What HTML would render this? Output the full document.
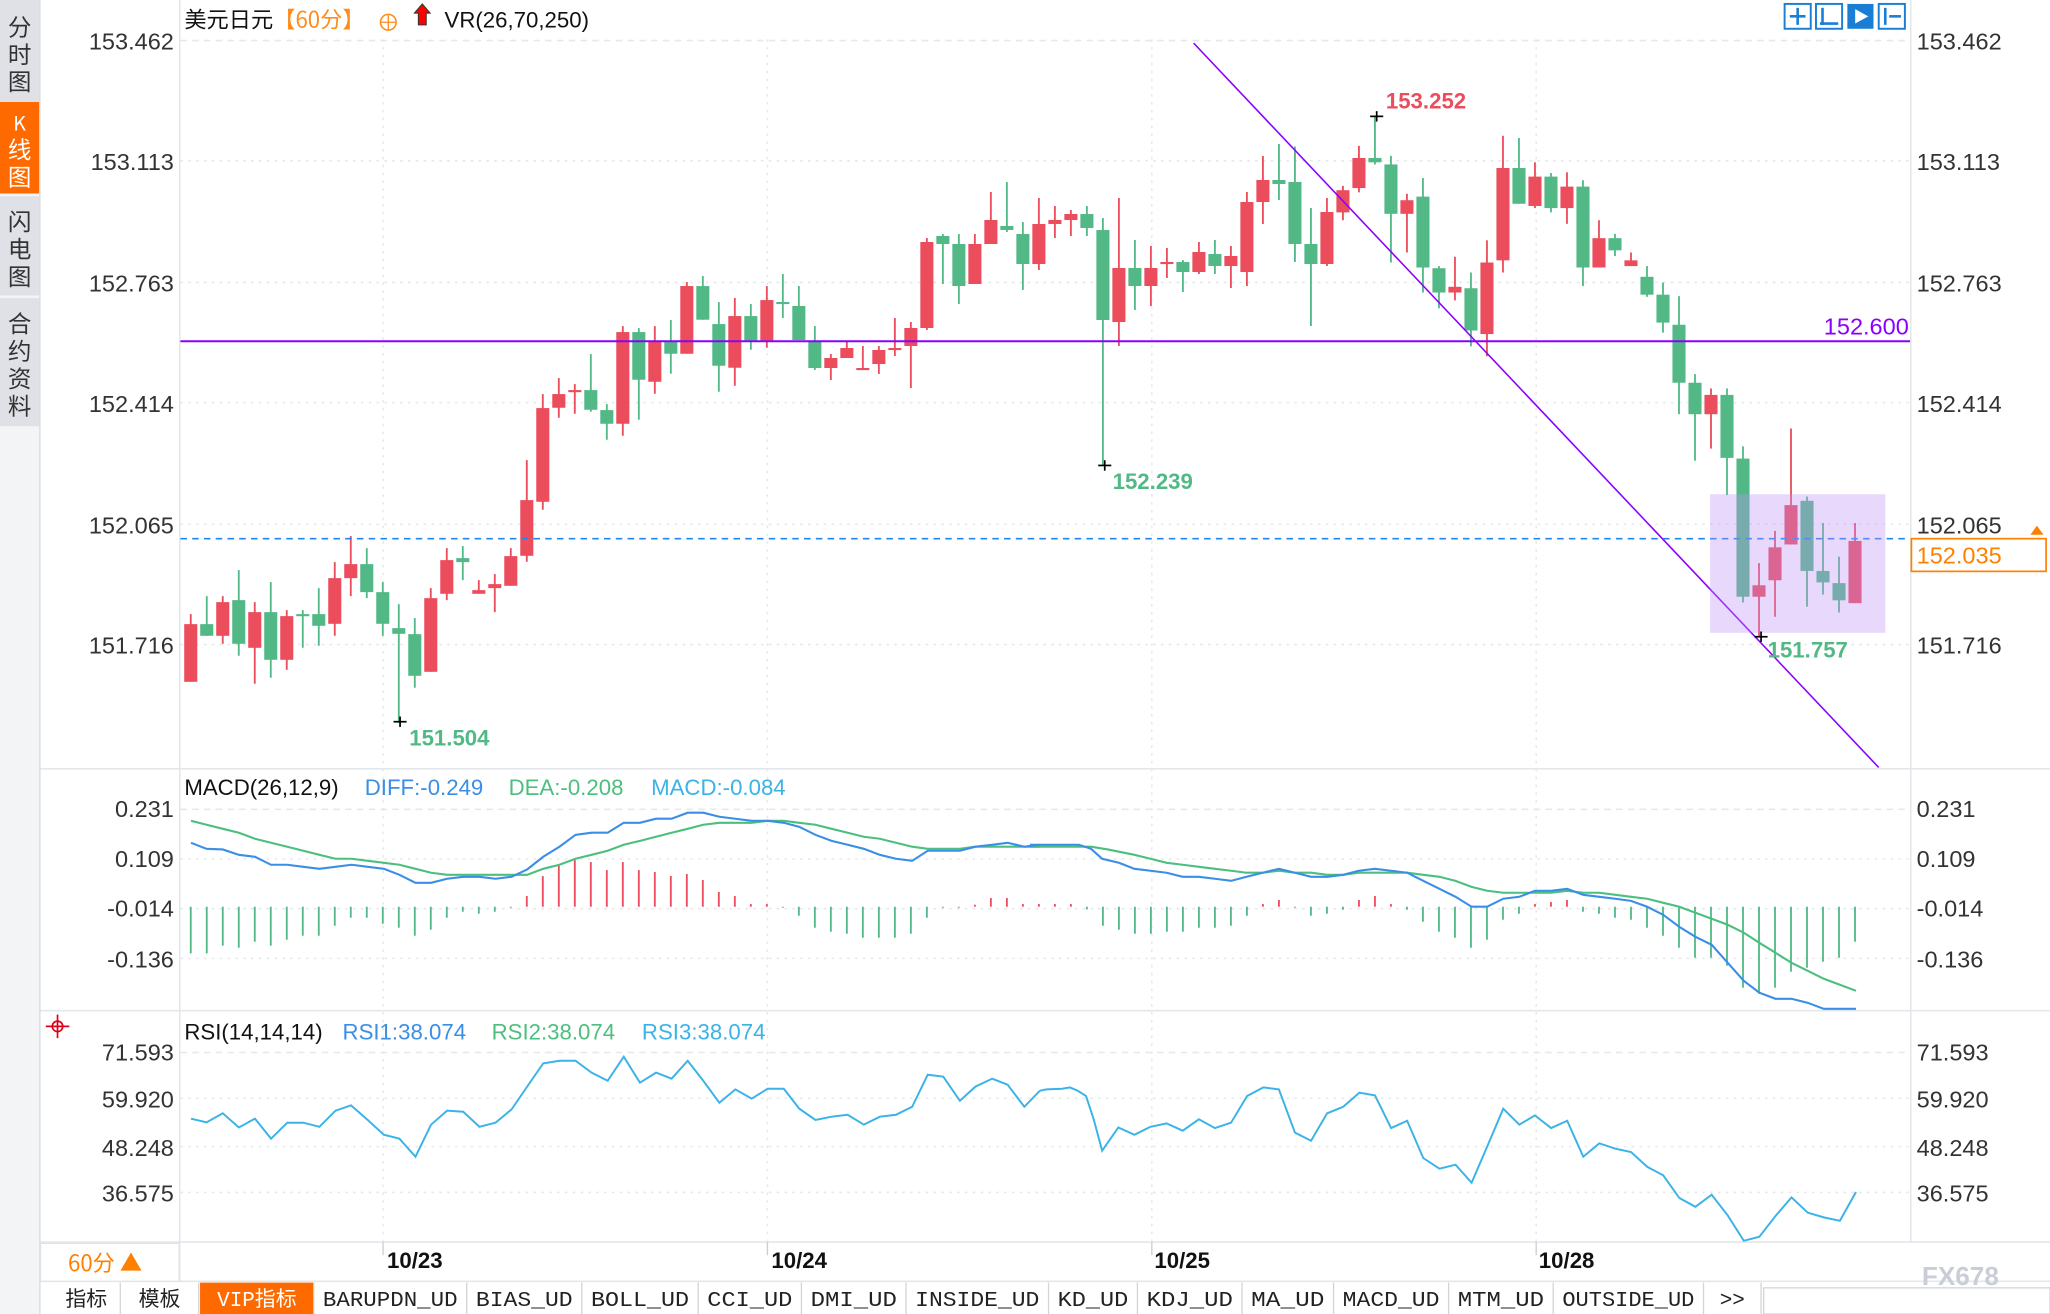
<!DOCTYPE html>
<html><head><meta charset="utf-8">
<style>
html,body{margin:0;padding:0;background:#fff;}
svg{display:block;font-family:"Liberation Sans","Noto Sans CJK SC",sans-serif;}
</style></head>
<body>
<svg id="s" xmlns="http://www.w3.org/2000/svg" width="2050" height="1314" viewBox="0 0 1568 1005" preserveAspectRatio="none">
<rect x="0" y="0" width="1568" height="1005" fill="#fff"/>
<rect x="0" y="0" width="30" height="1005" fill="#f3f4f6"/>
<rect x="0" y="0" width="30" height="78" fill="#dfe1e6"/>
<rect x="0" y="78" width="30" height="70" fill="#ff6a00"/>
<rect x="0" y="150" width="30" height="76" fill="#dfe1e6"/>
<rect x="0" y="228" width="30" height="98" fill="#dfe1e6"/>
<line x1="30.5" y1="0" x2="30.5" y2="1005" stroke="#d5d9de"/>
<g font-size="18" fill="#333" text-anchor="middle" font-family="'Noto Sans CJK SC',sans-serif">
<text x="15" y="27">分</text><text x="15" y="48">时</text><text x="15" y="69">图</text>
<text x="15" y="100" fill="#fff" font-size="15">K</text><text x="15" y="121" fill="#fff">线</text><text x="15" y="142" fill="#fff">图</text>
<text x="15" y="176">闪</text><text x="15" y="197">电</text><text x="15" y="218">图</text>
<text x="15" y="254">合</text><text x="15" y="275">约</text><text x="15" y="296">资</text><text x="15" y="317">料</text>
</g>
<g stroke="#e3e7eb" stroke-width="1.2">
<line x1="137.5" y1="0" x2="137.5" y2="980"/>
<line x1="1461.5" y1="0" x2="1461.5" y2="950"/>
<line x1="31" y1="588" x2="1568" y2="588"/>
<line x1="31" y1="773" x2="1568" y2="773"/>
<line x1="31" y1="950" x2="1568" y2="950"/>
<line x1="31" y1="980" x2="1568" y2="980"/>
</g>
<g id="grid"></g>
<g id="macd"></g>
<g id="rsi"></g>
<g id="candles"></g>
<line x1="138" y1="261" x2="1461" y2="261" stroke="#8a00ff" stroke-width="1.5"/>
<line x1="913" y1="33" x2="1437" y2="587" stroke="#8a00ff" stroke-width="1.2"/>
<line x1="138" y1="412" x2="1461" y2="412" stroke="#1e88f0" stroke-width="1.3" stroke-dasharray="5,4"/>
<rect x="1308" y="378" width="134" height="106" fill="rgb(190,145,245)" fill-opacity="0.35"/>
<text x="1460" y="256" font-size="18" fill="#8a00ff" text-anchor="end">152.600</text>
<g stroke="#000" stroke-width="1.3">
<line x1="1048" y1="89" x2="1058" y2="89"/><line x1="1053" y1="85" x2="1053" y2="93"/>
<line x1="840" y1="356" x2="850" y2="356"/><line x1="845" y1="352" x2="845" y2="360"/>
<line x1="301" y1="552" x2="311" y2="552"/><line x1="306" y1="548" x2="306" y2="556"/>
<line x1="1342" y1="487" x2="1352" y2="487"/><line x1="1347" y1="483" x2="1347" y2="491"/>
</g>
<g font-size="17" font-weight="bold">
<text x="1060" y="83" fill="#eb4d5c">153.252</text>
<text x="851" y="374" fill="#52b986">152.239</text>
<text x="313" y="570" fill="#52b986">151.504</text>
<text x="1352" y="503" fill="#52b986">151.757</text>
</g>
<g font-size="18" fill="#333" text-anchor="end">
<text x="133" y="38">153.462</text><text x="133" y="130">153.113</text><text x="133" y="223">152.763</text>
<text x="133" y="315">152.414</text><text x="133" y="408">152.065</text><text x="133" y="500">151.716</text>
<text x="133" y="625">0.231</text><text x="133" y="663">0.109</text><text x="133" y="701">-0.014</text><text x="133" y="740">-0.136</text>
<text x="133" y="811">71.593</text><text x="133" y="847">59.920</text><text x="133" y="884">48.248</text><text x="133" y="919">36.575</text>
</g>
<g font-size="18" fill="#333">
<text x="1466" y="38">153.462</text><text x="1466" y="130">153.113</text><text x="1466" y="223">152.763</text>
<text x="1466" y="315">152.414</text><text x="1466" y="408">152.065</text><text x="1466" y="500">151.716</text>
<text x="1466" y="625">0.231</text><text x="1466" y="663">0.109</text><text x="1466" y="701">-0.014</text><text x="1466" y="740">-0.136</text>
<text x="1466" y="811">71.593</text><text x="1466" y="847">59.920</text><text x="1466" y="884">48.248</text><text x="1466" y="919">36.575</text>
</g>
<rect x="1462" y="412" width="103" height="25" fill="#fff" stroke="#ff8000" stroke-width="1.3"/>
<text x="1466" y="431" font-size="18" fill="#ff8000">152.035</text>
<path d="M1553,409 L1558,402 L1563,409 Z" fill="#ff8000"/>
<text x="141" y="21" font-size="17" fill="#111" font-family="'Noto Sans CJK SC',sans-serif">美元日元</text>
<text x="209" y="21" font-size="17" fill="#ff8c1a" font-family="'Noto Sans CJK SC',sans-serif">【60分】</text>
<circle cx="297" cy="17" r="6" fill="none" stroke="#ff8c1a" stroke-width="1.2"/>
<line x1="291" y1="17" x2="303" y2="17" stroke="#ff8c1a"/><line x1="297" y1="11" x2="297" y2="23" stroke="#ff8c1a"/>
<path d="M323,3 L329,10 L326,10 L326,19 L320,19 L320,10 L317,10 Z" fill="#f00" stroke="#333" stroke-width="0.8"/>
<text x="340" y="21" font-size="17" fill="#111">VR(26,70,250)</text>
<g fill="none" stroke="#1a7fd4" stroke-width="1.5">
<rect x="1365" y="3" width="20" height="19"/><rect x="1389" y="3" width="20" height="19"/>
<rect x="1437" y="3" width="20" height="19"/>
</g>
<rect x="1413" y="3" width="20" height="19" fill="#1a7fd4"/>
<g stroke="#1a7fd4" stroke-width="2"><line x1="1369" y1="12.5" x2="1381" y2="12.5"/><line x1="1375" y1="6" x2="1375" y2="19"/>
<line x1="1394" y1="6" x2="1394" y2="19"/><line x1="1392" y1="18" x2="1406" y2="18"/><line x1="1442" y1="6" x2="1442" y2="19"/><path d="M1445,12.5 L1454,12.5" /></g>
<path d="M1419,7 L1429,12.5 L1419,18 Z" fill="#fff"/>
<text x="141" y="608" font-size="17" fill="#111">MACD(26,12,9)</text>
<text x="279" y="608" font-size="17" fill="#3a8ee6">DIFF:-0.249</text>
<text x="389" y="608" font-size="17" fill="#4cbf7f">DEA:-0.208</text>
<text x="498" y="608" font-size="17" fill="#3ab3e6">MACD:-0.084</text>
<text x="141" y="795" font-size="17" fill="#111">RSI(14,14,14)</text>
<text x="262" y="795" font-size="17" fill="#3a8ee6">RSI1:38.074</text>
<text x="376" y="795" font-size="17" fill="#4cbf7f">RSI2:38.074</text>
<text x="491" y="795" font-size="17" fill="#3ab3e6">RSI3:38.074</text>
<g stroke="#e0001a" stroke-width="1.3" fill="none"><circle cx="44" cy="785" r="4"/><line x1="35" y1="785" x2="53" y2="785"/><line x1="44" y1="776" x2="44" y2="794"/></g>
<rect x="31" y="951" width="106" height="29" fill="#fff" stroke="#dfe3e7"/>
<text x="52" y="972" font-size="17" fill="#ff8000" font-family="'Noto Sans CJK SC',sans-serif">60分 ▲</text>
<g font-size="17" fill="#111" font-weight="bold">
<text x="296" y="970">10/23</text><text x="590" y="970">10/24</text><text x="883" y="970">10/25</text><text x="1177" y="970">10/28</text>
</g>
<g stroke="#c8ced4"><line x1="293" y1="950" x2="293" y2="960"/><line x1="587" y1="950" x2="587" y2="960"/><line x1="881" y1="950" x2="881" y2="960"/><line x1="1175" y1="950" x2="1175" y2="960"/></g>
<text x="1470" y="983" font-size="20" fill="#c9ced6" font-weight="bold">FX678</text>
<g id="tabs" font-size="16" fill="#222" font-family="'Liberation Mono','Noto Sans CJK SC',monospace"></g>
<script>
var NS="http://www.w3.org/2000/svg";
function el(p,t,a,txt){var e=document.createElementNS(NS,t);for(var k in a)e.setAttribute(k,a[k]);if(txt)e.textContent=txt;p.appendChild(e);return e;}
var g=document.getElementById('grid');
[123,216,308,401,493,657,695,733,840,877,912].forEach(function(y){el(g,'line',{x1:138,y1:y,x2:1461,y2:y,stroke:'#e6e9ec','stroke-width':1.2,'stroke-dasharray':'2,4'});});
[31,619,805].forEach(function(y){el(g,'line',{x1:138,y1:y,x2:1461,y2:y,stroke:'#e6e9ec','stroke-width':1.2,'stroke-dasharray':'5,4'});});
[293,587,881,1175].forEach(function(x){el(g,'line',{x1:x,y1:30,x2:x,y2:950,stroke:'#e6e9ec','stroke-width':1.2,'stroke-dasharray':'2,4'});});
var RED='#eb4d5c',GRN='#52b986';
function X(i){return 145.9+(i-1)*12.24;}
var c=document.getElementById('candles');
var z1=[['r',1092,1265,1062,1265],['g',1092,1127,1008,1127],['r',1026,1127,1008,1151],['g',1020,1151,930,1187],['r',1056,1163,1026,1271],['g',1056,1199,966,1253],['r',1068,1199,1050,1229],['g',1062,1068,1050,1163],['g',1062,1097,984,1157],['r',954,1091,906,1127],['r',912,954,828,1008],['g',912,996,864,1014],['g',996,1091,966,1127],['g',1104,1121,1032,1388],['g',1122,1247,1074,1283],['r',1014,1235,984,1235],['r',900,1001,864,1020],['g',894,906,858,960],['r',990,1001,960,1001],['r',972,984,942,1056],['r',888,977,864,977],['r',720,887,600,905],['r',444,725,402,749],['r',402,443,354,473],['r',390,395,372,461],['g',390,449,282,455],['g',450,491,432,539],['r',216,491,198,527],['g',216,359,204,479],['r',246,365,198,401],['g',246,281,180,341],['r',78,281,66,281],['g',78,179,48,179],['g',192,317,126,395],['r',168,323,114,377],['g',168,241,132,269],['r',120,241,78,263]];
var z2=[['g',456,462,372,504],['g',468,570,408,570],['g',572,654,528,660],['r',624,654,612,690],['r',594,624,576,624],['r',654,660,588,660],['r',600,642,588,672],['r',594,600,504,618],['r',534,588,516,714],['r',276,534,264,540],['g',258,282,252,402],['g',282,408,252,462],['r',282,402,252,402],['r',210,282,126,282],['g',228,240,96,246],['g',252,342,216,420],['r',222,342,144,360],['r',210,222,168,264],['r',192,210,180,258],['g',192,234,168,258],['g',240,510,204,948],['r',354,516,144,588],['g',354,408,270,480],['r',354,408,288,468],['r',336,342,294,384],['g',336,366,330,426],['r',306,366,276,372],['g',312,348,270,372],['r',318,348,288,414],['r',156,366,126,408],['r',90,156,18,222],['g',90,102,-18,150],['g',96,282,-10,336],['g',282,342,174,528],['r',186,342,144,348]];
var z3=[['r',252,314,240,336],['r',162,246,128,258],['g',162,174,46,180],['g',180,318,156,454],['r',280,318,262,426],['g',270,468,218,538],['g',470,538,464,582],['r',522,538,438,560],['g',526,644,482,688],['r',454,654,392,716],['r',190,448,100,482],['g',190,290,106,290],['r',214,296,174,302],['g',214,302,204,314],['r',242,302,202,346],['g',242,468,224,520],['r',386,468,336,468],['g',386,420,374,436],['r',448,464,426,464],['g',494,544,464,550],['g',544,622,510,650],['g',628,790,548,878],['g',790,878,766,1008],['r',824,878,806,974],['g',824,1000,806,1104],['g',1002,1388,968,1404],['r',1356,1388,1294,1500],['r',1250,1342,1204,1444],['r',1132,1242,918,1242],['g',1120,1316,1108,1416],['g',1316,1348,1182,1382],['g',1350,1398,1276,1432],['r',1232,1406,1182,1406]];
var all=[];
z1.forEach(function(d){all.push([d[0]].concat(d.slice(1).map(function(v){return v*0.255+198.9;})));});
z2.forEach(function(d){all.push([d[0]].concat(d.slice(1).map(function(v){return v*0.255+114.7;})));});
z3.forEach(function(d){all.push([d[0]].concat(d.slice(1).map(function(v){return v*0.2737+76.5;})));});
all.forEach(function(d,k){var i=k+1,x=X(i),col=d[0]=='r'?RED:GRN;
el(c,'line',{x1:x,y1:d[3],x2:x,y2:d[4],stroke:col,'stroke-width':1.4});
var h=Math.max(d[2]-d[1],1.6);el(c,'rect',{x:x-5,y:d[1],width:10,height:h,fill:col});});
var m=document.getElementById('macd');
var h1=[550,550,527,533,515,527,509,497,497,467,443,443,461,473,497,479,443,425,431,425,413,378,318,284,270,276,300,276,300,306,318,312,330,366,378,402,402,413,437,473,485,491,503,503,503,491,443,413,413,404,384,384,402];
var h2=[402,402,402,418,467,479,491,491,485,485,473,473,467,437,402,390,413,437,431,419,390,378,402,419,455,485,503,533,509,449,431,402,396,390,425,431,443,449,473,497,533,563,563,587,653,671,653,605,593,575,563,515];
var hist=h1.concat(h2);
hist.forEach(function(v,k){var x=X(k+1),y=(v-410)*0.255+693.5;el(m,'line',{x1:x,y1:693.5,x2:x,y2:y,stroke:v<410?RED:GRN,'stroke-width':1.4});});
function pl(p,pts,fx,ox,fy,oy,col,w){var s=pts.map(function(q){return (q[0]*fx+ox).toFixed(1)+','+(q[1]*fy+oy).toFixed(1);}).join(' ');el(p,'polyline',{points:s,fill:'none',stroke:col,'stroke-width':w});}
var b8=[[38,218],[66,236],[95,238],[124,254],[153,260],[182,284],[211,284],[240,290],[269,296],[298,290],[327,284],[356,290],[385,296],[413,314],[442,338],[470,338],[499,326],[528,320],[557,320],[586,326],[615,320],[643,298],[672,260],[701,230],[730,194],[759,188],[788,188],[817,158],[846,158],[875,146],[903,146],[932,128],[960,128],[989,140],[1018,146],[1047,152],[1076,152],[1105,158],[1133,170],[1162,194],[1191,212],[1220,224],[1249,236],[1278,254],[1307,266],[1336,272],[1364,242],[1392,242],[1422,242],[1450,230],[1480,224],[1508,218],[1538,230],[1566,224]];
var g8=[[38,152],[66,164],[95,176],[124,188],[153,206],[182,218],[211,230],[240,242],[269,254],[298,266],[327,266],[356,272],[385,278],[413,284],[442,296],[470,308],[499,314],[528,314],[557,314],[586,314],[615,314],[643,314],[672,296],[701,284],[730,266],[759,254],[788,242],[817,224],[846,212],[875,200],[903,188],[932,176],[960,164],[989,158],[1018,158],[1047,158],[1076,152],[1105,152],[1133,158],[1162,164],[1191,176],[1220,188],[1249,200],[1278,206],[1307,218],[1336,230],[1364,236],[1392,236],[1422,236],[1450,230],[1480,230],[1508,230],[1566,230]];
var b9=[[0,224],[88,224],[110,236],[130,266],[160,278],[188,296],[217,302],[246,308],[275,320],[304,320],[333,326],[362,332],[390,320],[419,308],[448,296],[477,308],[506,320],[535,320],[564,314],[592,302],[621,296],[650,302],[679,308],[708,332],[737,356],[766,380],[795,410],[823,410],[852,386],[881,380],[909,362],[938,362],[967,356],[996,374],[1025,380],[1054,386],[1082,392],[1111,410],[1140,434],[1169,470],[1198,500],[1227,524],[1256,578],[1285,632],[1313,668],[1342,686],[1371,686],[1400,698],[1429,716],[1487,716]];
var g9=[[0,230],[110,230],[140,238],[188,254],[217,266],[246,278],[275,284],[304,290],[333,296],[362,302],[390,308],[419,308],[448,302],[477,308],[506,308],[535,314],[564,314],[592,308],[621,308],[650,308],[679,308],[708,314],[737,320],[766,332],[795,350],[823,362],[852,368],[881,368],[909,368],[938,368],[967,362],[996,368],[1025,368],[1054,374],[1082,380],[1111,386],[1140,398],[1169,410],[1198,428],[1227,446],[1256,464],[1285,488],[1313,518],[1342,548],[1371,578],[1400,602],[1429,626],[1458,644],[1487,662]];
var f=0.4249;
pl(m,g8,f,130.0,0.255,589.0,'#4cbf7f',1.6);pl(m,g9,f,787.8,0.255,589.0,'#4cbf7f',1.6);
pl(m,b8,f,130.0,0.255,589.0,'#3a8ee6',1.6);pl(m,b9,f,787.8,0.255,589.0,'#3a8ee6',1.6);
var r=document.getElementById('rsi');
var r10=[[38,326],[66,337],[95,310],[124,352],[153,326],[182,386],[211,338],[240,338],[269,350],[298,302],[326,286],[356,330],[385,374],[413,386],[442,440],[470,344],[499,302],[528,305],[557,350],[586,338],[615,298],[643,230],[672,160],[701,152],[730,152],[759,188],[788,212],[817,140],[846,218],[875,188],[903,206],[932,152],[960,212],[989,278],[1018,238],[1047,266],[1076,236],[1105,236],[1133,296],[1162,330],[1191,320],[1220,314],[1249,344],[1278,320],[1307,314],[1336,290],[1364,194],[1392,200],[1422,272],[1450,230],[1480,206],[1508,224],[1538,290],[1566,242]];
var r11=[[18,242],[30,238],[58,236],[72,232],[86,242],[101,258],[115,330],[130,422],[159,352],[188,374],[217,350],[246,340],[275,362],[304,328],[333,354],[362,338],[391,258],[420,232],[448,238],[477,368],[506,392],[535,310],[564,290],[593,248],[621,256],[650,354],[679,332],[708,444],[737,476],[766,464],[795,518],[823,410],[852,296],[881,344],[909,316],[938,354],[967,332],[996,440],[1025,400],[1054,416],[1082,426],[1111,470],[1140,496],[1169,564],[1198,590],[1227,554],[1256,616],[1285,692],[1313,680],[1342,618],[1371,562],[1400,608],[1429,622],[1458,632],[1487,546]];
pl(r,r10,f,130.0,0.255,772.5,'#3ab3e6',1.5);pl(r,r11,f,787.8,0.255,772.5,'#3ab3e6',1.5);
var t=document.getElementById('tabs');
var tabs=[['指标',40,92],['模板',92,152],['VIP指标',153,240],['BARUPDN_UD',240,357],['BIAS_UD',357,445],['BOLL_UD',445,534],['CCI_UD',534,613],['DMI_UD',613,693],['INSIDE_UD',693,802],['KD_UD',802,870],['KDJ_UD',870,950],['MA_UD',950,1020],['MACD_UD',1020,1108],['MTM_UD',1108,1188],['OUTSIDE_UD',1188,1303],['>>',1303,1347]];
tabs.forEach(function(d){if(d[0]=='VIP指标')el(t,'rect',{x:d[1],y:981,width:d[2]-d[1],height:24,fill:'#ff6a00'});
el(t,'line',{x1:d[2],y1:981,x2:d[2],y2:1005,stroke:'#d0d5da'});
var tx=el(t,'text',{x:(d[1]+d[2])/2,y:999,'text-anchor':'middle',fill:d[0]=='VIP指标'?'#fff':'#222'},d[0]);
if(/[A-Z]/.test(d[0])&&d[0]!='VIP指标'){tx.setAttribute('textLength',(d[2]-d[1]-14));tx.setAttribute('lengthAdjust','spacingAndGlyphs');}});
el(t,'rect',{x:1349,y:985,width:219,height:20,fill:'#fff',stroke:'#d0d5da'});
</script>
</svg>
</body></html>
